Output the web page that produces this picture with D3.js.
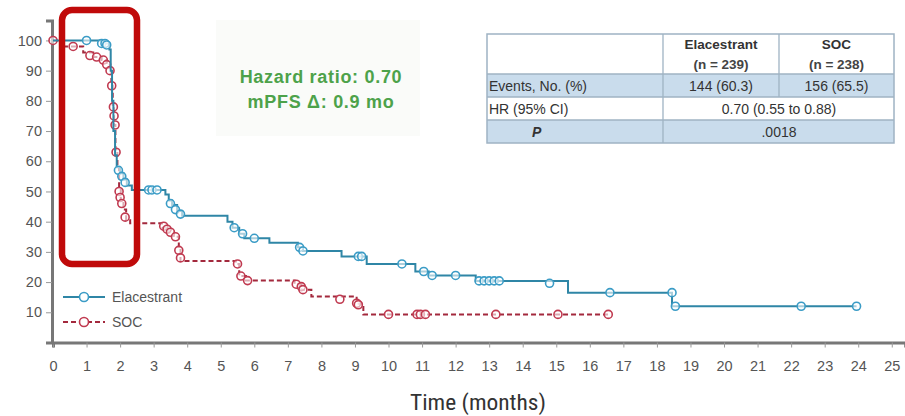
<!DOCTYPE html>
<html><head><meta charset="utf-8">
<script src="https://cdn.jsdelivr.net/npm/d3@7"></script>
<style>
html,body{margin:0;padding:0;background:#fff;}
svg{display:block;}
</style></head>
<body>
<svg id="chart" width="905" height="416"></svg>
<script>
// ---- data ----
const xTicks = d3.range(0, 26);
const yTicks = [10,20,30,40,50,60,70,80,90,100];

const elaTimes = [0,1.5,1.68,1.72,1.76,1.8,1.85,1.9,2.0,2.1,2.2,2.35,3.35,3.45,3.55,3.7,3.85,5.2,5.35,5.55,5.7,6.45,7.3,7.45,8.6,9.35,10.8,11.2,12.6,15.35,18.45,23.95];
const elaSurv  = [100,99,97,90,80,70,62,58,56,54,52,50.5,49,47,45.5,43.5,42,40,38,36,34.5,33,31.5,30.3,28.5,26,23.5,22.2,20.4,16.5,12,12];
const elaCensT = [1.0,1.45,1.55,1.6,1.95,2.05,2.15,2.85,2.95,3.1,3.5,3.65,3.8,5.4,5.65,6.0,7.35,7.45,9.1,9.2,10.4,11.05,11.3,12.0,12.7,12.85,13.0,13.15,13.3,14.8,16.6,18.45,18.55,22.3,23.95];
const elaCensV = [100,99,99,98.5,57,55,53,50.5,50.5,50.5,46,44,42.5,38,36,34.5,31.5,30.3,28.5,28.5,26,23.5,22.2,22.2,20.4,20.4,20.4,20.4,20.4,19.6,16.5,16.5,12,12,12];

const socTimes = [0,0.3,0.9,1.2,1.45,1.6,1.7,1.74,1.78,1.82,1.86,1.92,1.97,2.02,2.1,2.18,2.3,3.25,3.45,3.6,3.75,3.8,5.45,5.55,5.75,7.2,7.4,7.7,9.05,9.25,16.55];
const socSurv  = [100,98,96,94.5,93.5,92,90,85,78,72,64,58,51,47,44,40.5,39.5,38,36.5,35,31,27,26,22,20.5,19.3,17.5,15.2,12.8,9.3,9.3];
const socCensT = [0,0.6,1.1,1.3,1.5,1.6,1.7,1.75,1.8,1.82,1.85,1.88,1.97,2.0,2.05,2.15,3.3,3.4,3.5,3.65,3.75,3.8,5.5,5.6,5.8,7.25,7.4,7.45,8.55,9.05,9.1,10.0,10.85,10.95,11.1,13.2,15.05,16.55];
const socCensV = [100,98,95,94.5,93.5,92,90,85,78,75,72,63,50,48,46,41.5,38.5,37.5,36.5,35,30.5,28,26,22,20.5,19.3,18.5,17.5,14.3,13,12.5,9.3,9.3,9.3,9.3,9.3,9.3,9.3];

const seriesNames = ["Elacestrant","SOC"];
const tableHeader = [["Elacestrant","(n = 239)"],["SOC","(n = 238)"]];
const tableRowLabels = ["Events, No. (%)","HR (95% CI)","P"];
const tableEvents = ["144 (60.3)","156 (65.5)"];
const tableHR = "0.70 (0.55 to 0.88)";
const tableP = ".0018";
const annotLines = ["Hazard ratio: 0.70","mPFS \u0394: 0.9 mo"];
const xTitle = "Time (months)";

// ---- layout ----
const svg = d3.select("#chart");
const x = d3.scaleLinear().domain([0,25.4]).range([53,905.2]);
const y = d3.scaleLinear().domain([0,106.6]).range([342.5,20.5]);

const blueLine = "#2f86a6", blueDot = "#3b9cc6";
const redLine = "#a3293d", redDot = "#c03a50";
const axisCol = "#777", txtCol = "#555";
const ff = "Liberation Sans, Arial, sans-serif";

// annotation background
svg.append("rect").attr("x",216).attr("y",20).attr("width",204).attr("height",116).attr("fill","#fafbf9");
annotLines.forEach((t,i)=>{
  svg.append("text").attr("x",321).attr("y",83+i*25).attr("text-anchor","middle")
    .attr("font-family",ff).attr("font-weight","bold")
    .attr("font-size",18).attr("letter-spacing",0.7).attr("fill","#4da24a").text(t);
});

// axes
const xAxis = d3.axisBottom(x).tickValues(xTicks).tickSize(5).tickPadding(13).tickFormat(d3.format("d"));
const gx = svg.append("g").attr("transform","translate(0,342.5)").call(xAxis);
gx.select(".domain").attr("stroke",axisCol).attr("stroke-width",3);
gx.selectAll(".tick line").attr("stroke","#999").attr("stroke-width",1);
gx.selectAll(".tick text").attr("font-family",ff).attr("font-size",14.5).attr("fill",txtCol);

const yAxis = d3.axisLeft(y).tickValues(yTicks).tickSize(6).tickPadding(4);
const gy = svg.append("g").attr("transform","translate(52,0)").call(yAxis);
gy.select(".domain").attr("stroke",axisCol).attr("stroke-width",3);
gy.selectAll(".tick line").attr("stroke","#999").attr("stroke-width",1);
gy.selectAll(".tick text").attr("font-family",ff).attr("font-size",14.5).attr("fill",txtCol);

svg.append("text").attr("x",478).attr("y",410).attr("text-anchor","middle")
  .attr("font-family","Liberation Sans Narrow, Roboto Condensed, Liberation Sans, sans-serif")
  .attr("font-size",22).attr("textLength",136).attr("lengthAdjust","spacingAndGlyphs")
  .attr("fill","#333").text(xTitle);

// curves
const line = d3.line().x(d=>x(d[0])).y(d=>y(d[1])).curve(d3.curveStepAfter);
const socData = socTimes.map((t,i)=>[t,socSurv[i]]);
const elaData = elaTimes.map((t,i)=>[t,elaSurv[i]]);

svg.append("path").datum(socData).attr("d",line).attr("fill","none")
  .attr("stroke",redLine).attr("stroke-width",2).attr("stroke-dasharray","5,3");
svg.selectAll(".socC").data(socCensT.map((t,i)=>[t,socCensV[i]])).join("circle")
  .attr("cx",d=>x(d[0])).attr("cy",d=>y(d[1])).attr("r",4)
  .attr("fill","#fff").attr("fill-opacity",0.6).attr("stroke",redDot).attr("stroke-width",1.6);

svg.append("path").datum(elaData).attr("d",line).attr("fill","none")
  .attr("stroke",blueLine).attr("stroke-width",2);
svg.selectAll(".elaC").data(elaCensT.map((t,i)=>[t,elaCensV[i]])).join("circle")
  .attr("cx",d=>x(d[0])).attr("cy",d=>y(d[1])).attr("r",4)
  .attr("fill","#fff").attr("fill-opacity",0.6).attr("stroke",blueDot).attr("stroke-width",1.6);

// legend
const leg = [{n:seriesNames[0],c:blueLine,d:blueDot,dash:null,y:297},{n:seriesNames[1],c:redLine,d:redDot,dash:"5,3",y:322}];
leg.forEach(l=>{
  svg.append("line").attr("x1",63).attr("x2",105).attr("y1",l.y).attr("y2",l.y)
    .attr("stroke",l.c).attr("stroke-width",2.2).attr("stroke-dasharray",l.dash);
  svg.append("circle").attr("cx",84).attr("cy",l.y).attr("r",4.5).attr("fill","#fff").attr("stroke",l.d).attr("stroke-width",1.6);
  svg.append("text").attr("x",112).attr("y",l.y+5).attr("font-family",ff)
    .attr("font-size",14).attr("fill",txtCol).text(l.n);
});

// table
const T = {x0:487,x1:663,x2:779,x3:894,y0:34,y1:74,y2:97,y3:120,y4:143};
const tg = svg.append("g");
tg.append("rect").attr("x",T.x0).attr("y",T.y1).attr("width",T.x3-T.x0).attr("height",T.y2-T.y1).attr("fill","#c9dcec");
tg.append("rect").attr("x",T.x0).attr("y",T.y3).attr("width",T.x3-T.x0).attr("height",T.y4-T.y3).attr("fill","#c9dcec");
tg.append("rect").attr("x",T.x0).attr("y",T.y0).attr("width",T.x3-T.x0).attr("height",T.y4-T.y0).attr("fill","none").attr("stroke","#9fb3c3").attr("stroke-width",1.5);
[[T.x0,T.y1,T.x3,T.y1],[T.x0,T.y2,T.x3,T.y2],[T.x0,T.y3,T.x3,T.y3],
 [T.x1,T.y0,T.x1,T.y4],[T.x2,T.y0,T.x2,T.y2]].forEach(s=>{
  tg.append("line").attr("x1",s[0]).attr("y1",s[1]).attr("x2",s[2]).attr("y2",s[3]).attr("stroke","#9fb3c3").attr("stroke-width",1.3);
});
const cc = [(T.x1+T.x2)/2,(T.x2+T.x3)/2];
tableHeader.forEach((h,i)=>{
  tg.append("text").attr("x",cc[i]).attr("y",49).attr("text-anchor","middle").attr("font-family",ff).attr("font-weight","bold").attr("font-size",13.5).attr("fill","#333").text(h[0]);
  tg.append("text").attr("x",cc[i]).attr("y",69).attr("text-anchor","middle").attr("font-family",ff).attr("font-weight","bold").attr("font-size",13.5).attr("fill","#444").text(h[1]);
});
const bodyFs = 14;
tg.append("text").attr("x",489).attr("y",91).attr("font-family",ff).attr("font-size",bodyFs).attr("fill","#333").text(tableRowLabels[0]);
tg.append("text").attr("x",489).attr("y",114).attr("font-family",ff).attr("font-size",bodyFs).attr("fill","#333").text(tableRowLabels[1]);
tg.append("text").attr("x",532).attr("y",137).attr("font-family",ff).attr("font-style","italic").attr("font-weight","bold").attr("font-size",bodyFs).attr("fill","#333").text(tableRowLabels[2]);
tableEvents.forEach((e,i)=>{
  tg.append("text").attr("x",cc[i]).attr("y",91).attr("text-anchor","middle").attr("font-family",ff).attr("font-size",bodyFs).attr("fill","#333").text(e);
});
tg.append("text").attr("x",T.x2).attr("y",114).attr("text-anchor","middle").attr("font-family",ff).attr("font-size",bodyFs).attr("fill","#333").text(tableHR);
tg.append("text").attr("x",T.x2).attr("y",137).attr("text-anchor","middle").attr("font-family",ff).attr("font-size",bodyFs).attr("fill","#333").text(tableP);

// highlight box
svg.append("rect").attr("x",62).attr("y",10).attr("width",75).attr("height",254).attr("rx",10)
  .attr("fill","none").attr("stroke","#c00a0a").attr("stroke-width",6.5);
</script>
</body></html>
